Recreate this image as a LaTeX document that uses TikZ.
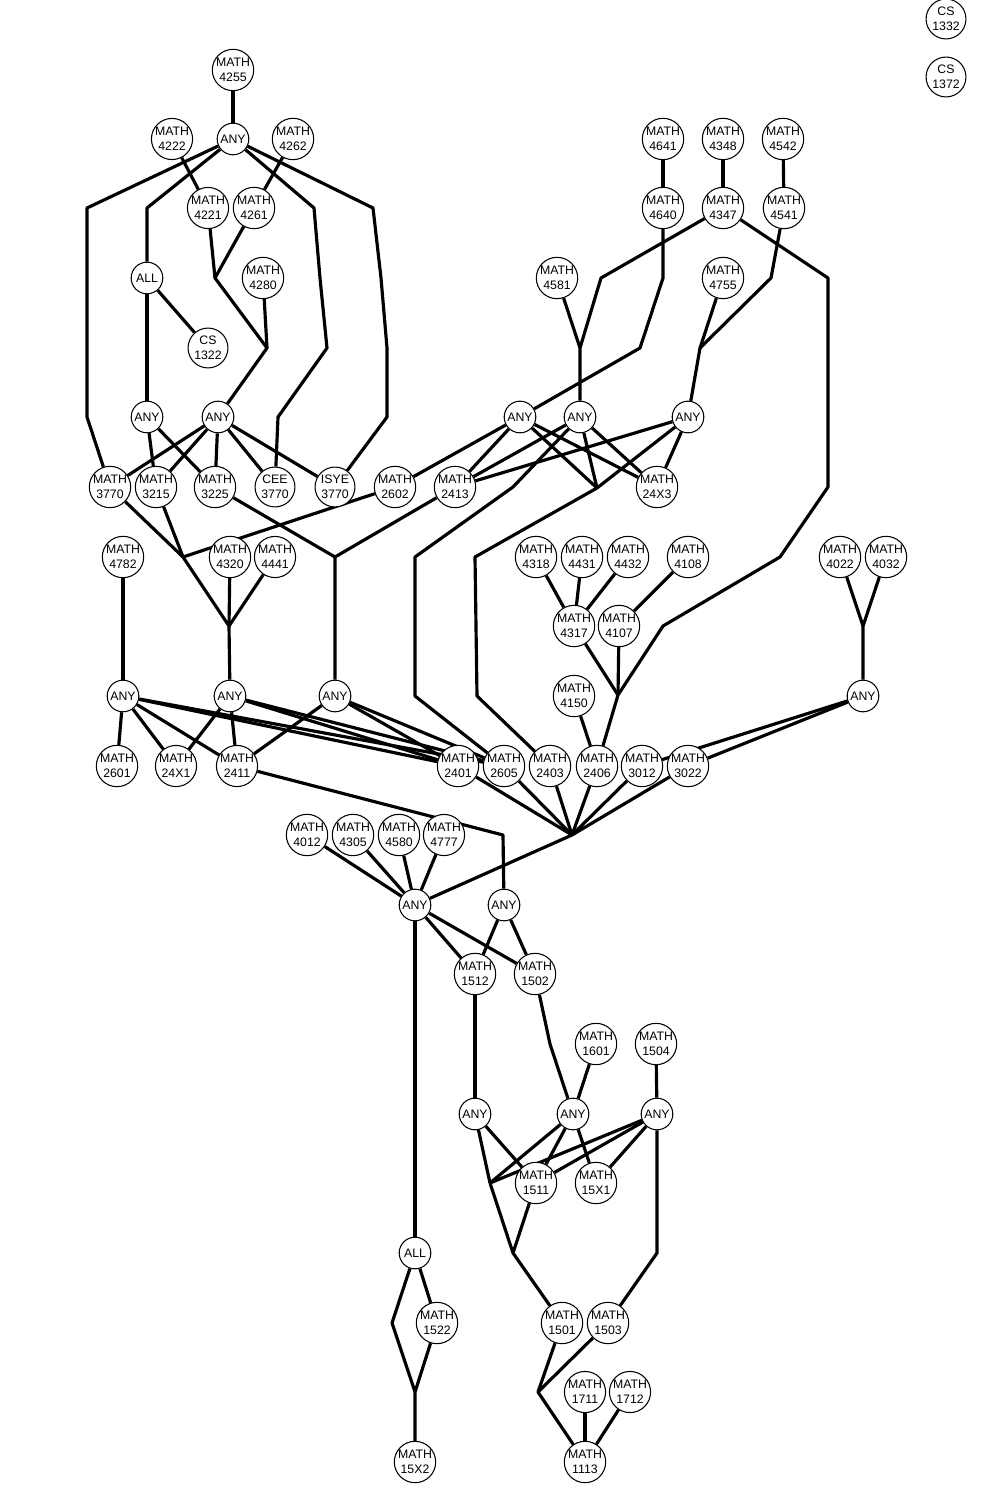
\documentclass[tikz,border=0pt]{standalone}
\usepackage{fontspec}
\setmainfont{Liberation Sans}
\usetikzlibrary{backgrounds}

\begin{document}
\begin{tikzpicture}[x=0.02cm, y=-0.02cm,
    course/.style={circle, draw, line width=0.6pt, fill=white, minimum size=22.7pt, inner sep=0pt, align=center, font=\fontsize{7}{8.6}\selectfont},
    choice/.style={course, minimum size=18pt},
    link/.style={line width=1.8pt, line join=round}]
    \useasboundingbox (0,0) rectangle (985,1503);
    % Courses
    \foreach \d/\n/\x/\y in {CS/1332/946/19, CS/1372/946/77,
        MATH/4255/233/70, MATH/4222/172/139, MATH/4262/293/139, MATH/4641/663/139, MATH/4348/723/139, MATH/4542/783/139,
        MATH/4221/208/208, MATH/4261/254/208, MATH/4640/663/208, MATH/4347/723/208, MATH/4541/784/208,
        MATH/4280/263/278, MATH/4581/557/278, MATH/4755/723/278, CS/1322/208/348,
        MATH/3770/110/487, MATH/3215/156/487, MATH/3225/215/487, CEE/3770/275/487, ISYE/3770/335/487, MATH/2602/395/487, MATH/2413/455/487, MATH/24X3/657/487,
        MATH/4782/123/557, MATH/4320/230/557, MATH/4441/275/557, MATH/4318/536/557, MATH/4431/582/557, MATH/4432/628/557, MATH/4108/688/557, MATH/4022/840/557, MATH/4032/886/557,
        MATH/4317/574/626, MATH/4107/619/626, MATH/4150/574/696,
        MATH/2601/117/766, MATH/24X1/176/766, MATH/2411/237/766, MATH/2401/458/766, MATH/2605/504/766, MATH/2403/550/766, MATH/2406/597/766, MATH/3012/642/766, MATH/3022/688/766,
        MATH/4012/307/835, MATH/4305/353/835, MATH/4580/399/835, MATH/4777/444/835,
        MATH/1512/475/974, MATH/1502/535/974, MATH/1601/596/1044, MATH/1504/656/1044,
        MATH/1511/536/1183, MATH/15X1/596/1183, MATH/1522/437/1323, MATH/1501/562/1323, MATH/1503/608/1323,
        MATH/1711/585/1392, MATH/1712/630/1392, MATH/15X2/415/1462, MATH/1113/585/1462}
        \node[course] (\d\n) at (\x,\y) {\d\\\n};
    % Choice nodes
    \foreach \n/\x/\y in {A/233/139, B/147/417, C/218/417, D/520/417, E/580/417, F/688/417,
        G/123/696, H/230/696, I/335/696, J/863/696, K/415/905, L/504/905, M/475/1114, N/573/1114, O/657/1114}
        \node[choice] (any\n) at (\x,\y) {ANY};
    \node[choice] (allA) at (147,278) {ALL};
    \node[choice] (allB) at (415,1253) {ALL};
    % Junctions
    \coordinate (j4221) at (215,278);
    \coordinate (j4280) at (267,348);
    \coordinate (j4581) at (580,348);
    \coordinate (j4755) at (700,348);
    \coordinate (j2403) at (597,488);
    \coordinate (j4320) at (183,557);
    \coordinate (j3225) at (335,557);
    \coordinate (j4441) at (229,626);
    \coordinate (j4032) at (863,626);
    \coordinate (j2406) at (618,695);
    \coordinate (jbelow) at (572,835);
    \coordinate (j2411) at (503,835);
    \coordinate (j1511) at (490,1183);
    \coordinate (j1501) at (513,1253);
    \coordinate (j15X2) at (415,1392);
    \coordinate (j1113) at (538,1392);
    \begin{scope}[on background layer, every path/.style=link]
        % upper left block
        \draw (MATH4255) -- (anyA);
        \draw (MATH4222) -- (MATH4221);
        \draw (MATH4262) -- (MATH4261);
        \draw (anyA) -- (87,208) -- (87,417) -- (MATH3770);
        \draw (anyA) -- (147,208) -- (allA);
        \draw (allA) -- (anyB);
        \draw (allA) -- (CS1322);
        \draw (MATH4221) -- (j4221);
        \draw (MATH4261) -- (j4221) -- (j4280) -- (anyC);
        \draw (MATH4280) -- (j4280);
        \draw (anyA) -- (314,208) -- (320,278) -- (327,348) -- (278,417) -- (CEE3770);
        \draw (anyA) -- (373,208) -- (381,278) -- (387,348) -- (387,417) -- (ISYE3770);
        \foreach \t in {MATH3215, MATH3225}
            \draw (anyB) -- (\t);
        \foreach \t in {MATH3770, MATH3215, MATH3225, CEE3770, ISYE3770}
            \draw (anyC) -- (\t);
        % upper right block
        \draw (MATH4641) -- (MATH4640);
        \draw (MATH4348) -- (MATH4347);
        \draw (MATH4542) -- (MATH4541);
        \draw (MATH4640) -- (663,278) -- (640,348) -- (anyD);
        \draw (MATH4347) -- (601,278) -- (j4581) -- (anyE);
        \draw (MATH4581) -- (j4581);
        \draw (MATH4541) -- (771,278) -- (j4755) -- (anyF);
        \draw (MATH4755) -- (j4755);
        \draw (MATH4347) -- (828,278) -- (828,487) -- (780,557) -- (663,626) -- (j2406) -- (MATH2406);
        \draw (MATH4317) -- (j2406);
        \draw (MATH4107) -- (j2406);
        \foreach \s in {MATH4318, MATH4431, MATH4432}
            \draw (\s) -- (MATH4317);
        \draw (MATH4108) -- (MATH4107);
        \draw (MATH4150) -- (MATH2406);
        \foreach \s in {anyD, anyE, anyF} {
            \draw (\s) -- (MATH2413);
            \draw (\s) -- (MATH24X3);
            \draw (\s) -- (j2403);
        }
        \draw (anyD) -- (MATH2602);
        \draw (j2403) -- (475,557) -- (477,696) -- (MATH2403);
        \draw (anyE) -- (513,487) -- (415,557) -- (415,696) -- (MATH2605);
        % middle rows
        \foreach \s in {MATH3770, MATH3215, MATH2602}
            \draw (\s) -- (j4320);
        \draw (j4320) -- (j4441) -- (anyH);
        \draw (MATH4320) -- (j4441);
        \draw (MATH4441) -- (j4441);
        \draw (MATH3225) -- (j3225) -- (anyI);
        \draw (MATH2413) -- (j3225);
        \draw (MATH4782) -- (anyG);
        \draw (MATH4022) -- (j4032);
        \draw (MATH4032) -- (j4032) -- (anyJ);
        \foreach \t in {MATH2601, MATH24X1, MATH2411, MATH2401, MATH2605}
            \draw (anyG) -- (\t);
        \foreach \t in {MATH24X1, MATH2411, MATH2401, MATH2605}
            \draw (anyH) -- (\t);
        \foreach \t in {MATH2411, MATH2401, MATH2605}
            \draw (anyI) -- (\t);
        \draw (anyJ) -- (MATH3012);
        \draw (anyJ) -- (MATH3022);
        \foreach \s in {MATH2401, MATH2605, MATH2403, MATH2406, MATH3012, MATH3022}
            \draw (\s) -- (jbelow);
        \draw (jbelow) -- (anyK);
        \draw (MATH2411) -- (j2411) -- (anyL);
        % lower block
        \foreach \s in {MATH4012, MATH4305, MATH4580, MATH4777}
            \draw (\s) -- (anyK);
        \foreach \s in {anyK, anyL} {
            \draw (\s) -- (MATH1512);
            \draw (\s) -- (MATH1502);
        }
        \draw (anyK) -- (415,1183) -- (allB);
        \draw (MATH1512) -- (475,1044) -- (anyM);
        \draw (MATH1502) -- (550,1044) -- (anyN);
        \draw (MATH1601) -- (anyN);
        \draw (MATH1504) -- (anyO);
        \foreach \s in {anyM, anyN, anyO} {
            \draw (\s) -- (j1511);
            \draw (\s) -- (MATH1511);
        }
        \draw (anyN) -- (MATH15X1);
        \draw (anyO) -- (MATH15X1);
        \draw (j1511) -- (j1501) -- (MATH1501);
        \draw (MATH1511) -- (j1501);
        \draw (anyO) -- (657,1253) -- (MATH1503);
        \draw (allB) -- (392,1323) -- (j15X2) -- (MATH15X2);
        \draw (allB) -- (MATH1522) -- (j15X2);
        \draw (MATH1501) -- (j1113) -- (MATH1113);
        \draw (MATH1503) -- (j1113);
        \draw (MATH1711) -- (MATH1113);
        \draw (MATH1712) -- (MATH1113);
    \end{scope}
\end{tikzpicture}
\end{document}
